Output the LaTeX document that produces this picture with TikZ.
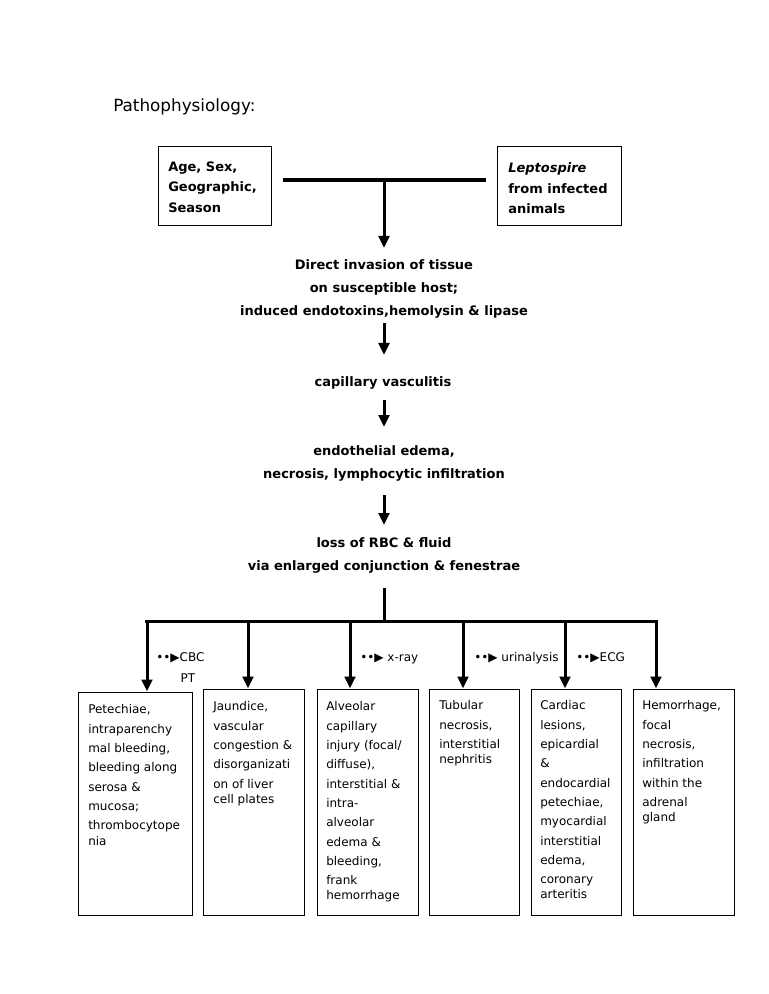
\documentclass[tikz,border=0pt]{standalone}
\usepackage{fontspec}
\setmainfont{DejaVu Sans}
\usetikzlibrary{arrows.meta,fit}
\begin{document}
\begin{tikzpicture}[x=0.75pt,y=-0.75pt,
  arr/.style={line width=2.25pt,-{Triangle[width=8pt,length=9pt]}},
  barline/.style={line width=2.6pt,line cap=rect},
  topbar/.style={line width=3pt},
  box/.style={draw,line width=0.75pt,inner sep=0pt},
  mid/.style={font=\fontsize{9.75}{17.4}\bfseries\selectfont,align=center,inner sep=0pt,anchor=north},
  boxtxt/.style={font=\fontsize{9}{14.5}\selectfont,align=left,inner sep=0pt,anchor=north west},
  toptxt/.style={font=\fontsize{9.75}{15.4}\bfseries\selectfont,align=left,inner sep=0pt,anchor=north west},
  lab/.style={font=\fontsize{9}{11}\selectfont,inner sep=0pt,anchor=base west}]
\useasboundingbox[fill=white] (0,0) rectangle (768,994);

% title
\node[font=\fontsize{12.6}{15}\selectfont,inner sep=0pt,anchor=base west] (title) at (113,111.7) {Pathophysiology:};

% top boxes
\node[box,fit={(158,147) (271,226)}] (boxL) {};
\node[box,fit={(497,147) (621,226)}] (boxR) {};
\node[toptxt] (txtL) at (168,161.5) {Age, Sex,\\Geographic,\\Season};
\node[toptxt] (txtR) at (508,162.5) {\textit{Leptospire}\\from infected\\animals};

% top bar
\coordinate (tbL) at (283,180.5);
\coordinate (tbR) at (486,180.5);
\coordinate (tbM) at (384,180.5);
\draw[topbar] (tbL) -- (tbR);

% central chain
\node[mid] (s1) at (384,259.4) {Direct invasion of tissue\\on susceptible host;\\induced endotoxins,hemolysin \& lipase};
\node[mid] (s2) at (383,376) {capillary vasculitis};
\node[mid] (s3) at (384,445) {endothelial edema,\\necrosis, lymphocytic infiltration};
\node[mid] (s4) at (384,537) {loss of RBC \& fluid\\via enlarged conjunction \& fenestrae};

\coordinate (a1e) at (384,248);
\coordinate (a2s) at (384,323);
\coordinate (a2e) at (384,355);
\coordinate (a3s) at (384,400);
\coordinate (a3e) at (384,427);
\coordinate (a4s) at (384,495);
\coordinate (a4e) at (384,525);
\coordinate (a5s) at (384,588);
\coordinate (a5e) at (384,621.5);

\draw[arr] (tbM) -- (a1e);
\draw[arr] (a2s) -- (a2e);
\draw[arr] (a3s) -- (a3e);
\draw[arr] (a4s) -- (a4e);
\draw[line width=2.25pt] (a5s) -- (a5e);

% bottom bar
\coordinate (d1) at (147,621.5);
\coordinate (d2) at (248,621.5);
\coordinate (d3) at (350,621.5);
\coordinate (d4) at (463,621.5);
\coordinate (d5) at (565,621.5);
\coordinate (d6) at (656,621.5);
\draw[barline] (d1) -- (d6);

% bottom boxes
\node[box,fit={(78,692) (192,915)}] (b1) {};
\node[box,fit={(203,689) (304,915)}] (b2) {};
\node[box,fit={(317,689) (418,915)}] (b3) {};
\node[box,fit={(429,689) (519,915)}] (b4) {};
\node[box,fit={(531,689) (621,915)}] (b5) {};
\node[box,fit={(633,689) (734,915)}] (b6) {};

\draw[arr] (d1) -- (d1 |- b1.north);
\draw[arr] (d2) -- (d2 |- b2.north);
\draw[arr] (d3) -- (d3 |- b3.north);
\draw[arr] (d4) -- (d4 |- b4.north);
\draw[arr] (d5) -- (d5 |- b5.north);
\draw[arr] (d6) -- (d6 |- b6.north);

% test labels
\node[lab] (l1) at (156,661.5) {••▶CBC};
\node[lab,anchor=base] (l1b) at (188,682.5) {PT};
\node[lab] (l2) at (360,661.5) {••▶ x-ray};
\node[lab] (l3) at (474,661.5) {••▶ urinalysis};
\node[lab] (l4) at (576,661.5) {••▶ECG};

% box texts
\node[boxtxt] (t1) at (88,704.6) {Petechiae,\\intraparenchy\\mal bleeding,\\bleeding along\\serosa \&\\mucosa;\\thrombocytope\\[-3.2pt]nia};
\node[boxtxt] (t2) at (213,701.5) {Jaundice,\\vascular\\congestion \&\\disorganizati\\on of liver\\[-3.2pt]cell plates};
\node[boxtxt] (t3) at (326,701.5) {Alveolar\\capillary\\injury (focal/\\diffuse),\\interstitial \&\\intra-\\alveolar\\edema \&\\bleeding,\\frank\\[-3.2pt]hemorrhage};
\node[boxtxt] (t4) at (439,700.5) {Tubular\\necrosis,\\interstitial\\[-3.2pt]nephritis};
\node[boxtxt] (t5) at (540,700.5) {Cardiac\\lesions,\\epicardial\\\&\\endocardial\\petechiae,\\myocardial\\interstitial\\edema,\\coronary\\[-3.2pt]arteritis};
\node[boxtxt] (t6) at (642,700.5) {Hemorrhage,\\focal\\necrosis,\\infiltration\\within the\\adrenal\\[-3.2pt]gland};
\end{tikzpicture}
\end{document}
